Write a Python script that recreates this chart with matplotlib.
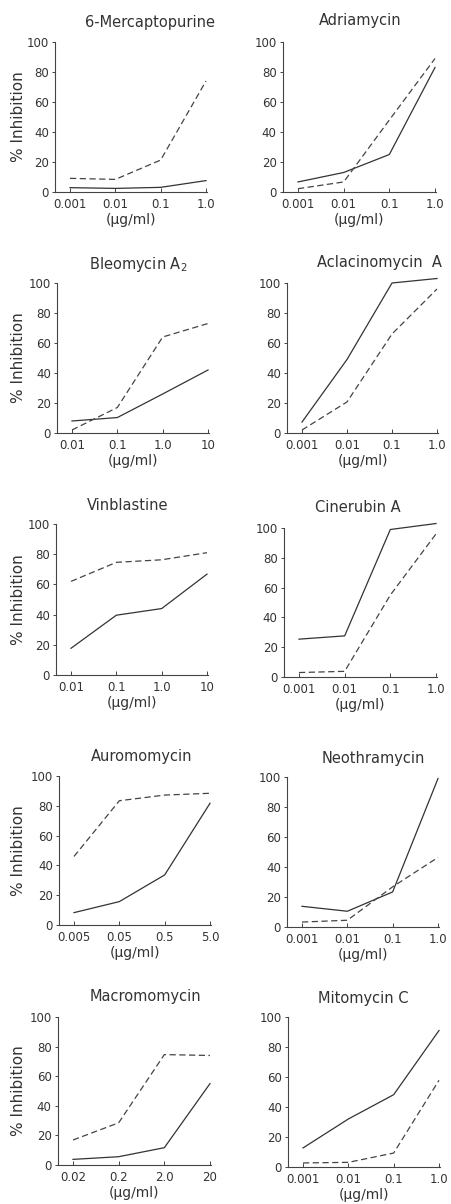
import matplotlib
matplotlib.use("Agg")
import matplotlib.pyplot as plt

# ---------------- data ----------------
titles = ["6-Mercaptopurine", "Adriamycin", "Bleomycin A$_2$", "Aclacinomycin  A",
          "Vinblastine", "Cinerubin A", "Auromomycin", "Neothramycin",
          "Macromomycin", "Mitomycin C"]

conc_a = [0.001, 0.01, 0.1, 1.0]
conc_b = [0.01, 0.1, 1.0, 10]
conc_c = [0.005, 0.05, 0.5, 5.0]
conc_d = [0.02, 0.2, 2.0, 20]

labels_a = ["0.001", "0.01", "0.1", "1.0"]
labels_b = ["0.01", "0.1", "1.0", "10"]
labels_c = ["0.005", "0.05", "0.5", "5.0"]
labels_d = ["0.02", "0.2", "2.0", "20"]

solid_mp = [2.9, 2.4, 3.1, 7.6]
dashed_mp = [9.1, 8.4, 21.3, 74]
solid_adr = [6.7, 13, 25, 83]
dashed_adr = [2.2, 6.7, 48, 89]
solid_bleo = [8, 10.3, 26, 42]
dashed_bleo = [2, 17, 64, 73]
solid_acla = [7.3, 49, 100, 103]
dashed_acla = [2, 20.7, 66, 96]
solid_vin = [17.7, 39.6, 44, 66.8]
dashed_vin = [62, 74.6, 76.3, 81]
solid_cin = [25.4, 27.6, 99, 103]
dashed_cin = [3, 3.8, 55, 96]
solid_auro = [8.3, 15.7, 33.6, 81.7]
dashed_auro = [46, 83.4, 87.2, 88.4]
solid_neo = [13.8, 10.5, 23.4, 99]
dashed_neo = [3.3, 4.5, 26.8, 46.4]
solid_macro = [3.8, 5.6, 11.7, 55]
dashed_macro = [16.9, 28.5, 74.6, 74]
solid_mito = [12.7, 32, 48.2, 91]
dashed_mito = [2.7, 3.1, 9.3, 57.8]

panels = [
    (conc_a, labels_a, solid_mp, dashed_mp),
    (conc_a, labels_a, solid_adr, dashed_adr),
    (conc_b, labels_b, solid_bleo, dashed_bleo),
    (conc_a, labels_a, solid_acla, dashed_acla),
    (conc_b, labels_b, solid_vin, dashed_vin),
    (conc_a, labels_a, solid_cin, dashed_cin),
    (conc_c, labels_c, solid_auro, dashed_auro),
    (conc_a, labels_a, solid_neo, dashed_neo),
    (conc_d, labels_d, solid_macro, dashed_macro),
    (conc_a, labels_a, solid_mito, dashed_mito),
]

yticks = [0, 20, 40, 60, 80, 100]
ylabel = "% Inhibition"
xlabel = "(µg/ml)"

# ---------------- layout (pixels) ----------------
W, H = 451, 1204
# first tick x, last tick x, y of 100, y of 0
boxes = [
    (70, 206, 42, 192), (298, 435, 42, 192),
    (72, 208, 283, 433), (302, 437, 283, 433),
    (71, 207, 524, 675), (299, 436, 528, 677),
    (74, 210, 776, 925), (302, 438, 777, 927),
    (73, 210, 1017, 1165), (303, 439, 1017, 1167),
]
title_pos = [(150, 22), (360, 20), (138, 264), (379, 263), (128, 505),
             (358, 508), (142, 757), (373, 759), (145, 997), (363, 998)]

plt.rcParams["lines.scale_dashes"] = False
plt.rcParams["font.family"] = ["DejaVu Sans"]
ink = "#333333"

fig = plt.figure(figsize=(W / 100, H / 100), dpi=100)
fig.patch.set_facecolor("white")

lpad, rpad = 0.33, 0.02
for i, ((x0p, x3p, ytop, ybot), (conc, labs, s, d)) in enumerate(zip(boxes, panels)):
    ppd = (x3p - x0p) / 3.0
    left = x0p - lpad * ppd
    right = x3p + rpad * ppd
    ax = fig.add_axes([left / W, 1 - ybot / H, (right - left) / W, (ybot - ytop) / H])
    ax.set_xscale("log")
    ax.set_xlim(conc[0] * 10 ** (-lpad), conc[-1] * 10 ** rpad)
    ax.set_ylim(0, 100)
    ax.plot(conc, s, color=ink, lw=0.9, clip_on=False)
    ax.plot(conc, d, color="#444444", lw=0.9, dashes=(4.5, 2.5), clip_on=False)
    ax.set_xticks(conc)
    ax.set_xticklabels(labs)
    ax.minorticks_off()
    ax.set_yticks(yticks)
    for sp in ("top", "right"):
        ax.spines[sp].set_visible(False)
    for sp in ("left", "bottom"):
        ax.spines[sp].set_color("#444444")
        ax.spines[sp].set_linewidth(0.8)
    ax.tick_params(axis="x", direction="in", length=3, width=0.7, colors="#444444",
                   labelsize=8.5, labelcolor=ink, pad=4)
    ax.tick_params(axis="y", direction="out", length=2.5, width=0.7, colors="#444444",
                   labelsize=8.5, labelcolor=ink, pad=2)
    ax.set_xlabel(xlabel, fontsize=10, color=ink, labelpad=2)
    if i % 2 == 0:
        ax.set_ylabel(ylabel, fontsize=11, color=ink)
        # label (anchored at its baseline side) so that its centre is ~19 px from the edge
        ax.yaxis.set_label_coords((26 - left) / (right - left), 0.5)
    tx, ty = title_pos[i]
    fig.text(tx / W, 1 - ty / H, titles[i], ha="center", va="center",
             fontsize=10.5, color=ink)

fig.savefig("out.png", dpi=100, facecolor="white")
